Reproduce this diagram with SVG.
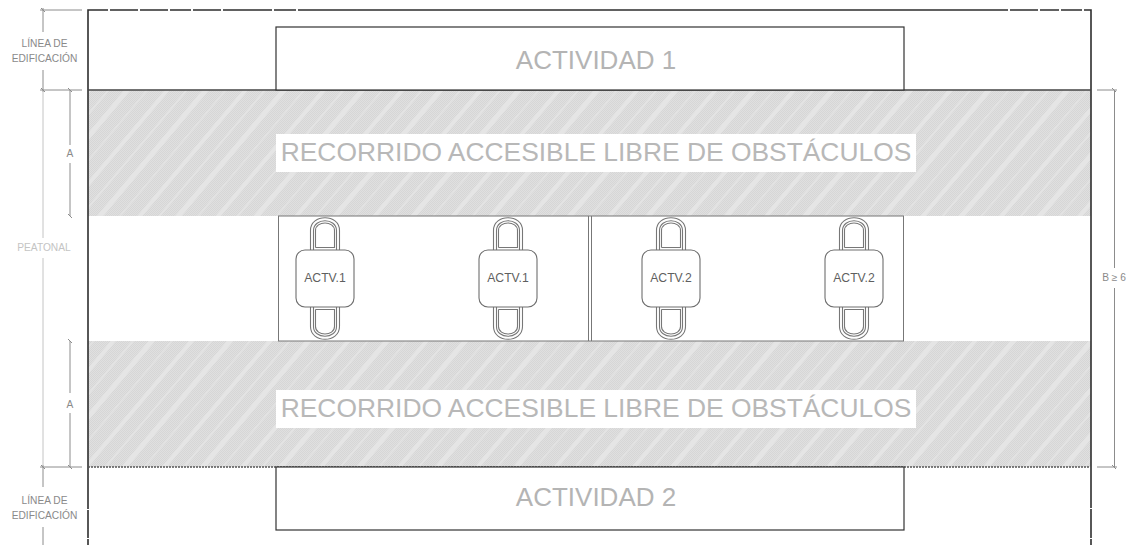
<svg xmlns="http://www.w3.org/2000/svg" width="1132" height="545" viewBox="0 0 1132 545">
<style>
text{font-family:"Liberation Sans",Arial,sans-serif;text-anchor:middle}
.big{font-size:26px;fill:#b4b4b4}
.rec{font-size:26.4px;fill:#b8b8b8}
.lab{font-size:10.2px;fill:#8a8a8a}
.act{font-size:12.2px;fill:#5f5f5f}
.dim{stroke:#8c8c8c;stroke-width:1;fill:none}
.dimL{stroke:#c4c4c4;stroke-width:1;fill:none}
.wall{stroke:#2e2e2e;stroke-width:1.6;fill:none}
.box{stroke:#333;stroke-width:1.2;fill:#fff}
.st{stroke:#6e6e6e;stroke-width:1.1;fill:#fff}
.lp{stroke:#777;stroke-width:1.1;fill:none}
</style>
<defs>
<pattern id="dots" width="2" height="2" patternUnits="userSpaceOnUse"><rect width="2" height="2" fill="#e0e0e0"/><rect width="1" height="1" fill="#d6d6d6"/><rect x="1" y="1" width="1" height="1" fill="#d6d6d6"/></pattern>
<pattern id="stripes" width="60" height="60" patternUnits="userSpaceOnUse" patternTransform="rotate(-50)"><rect x="0" y="4" width="60" height="4" fill="#e5e5e5"/><rect x="0" y="20" width="60" height="2" fill="#e3e3e3"/><rect x="0" y="33" width="60" height="5" fill="#e5e5e5"/><rect x="0" y="50" width="60" height="1.500" fill="#e3e3e3"/></pattern>
<g id="chair">
<path class="lp" d="M-14.500 -28V-48C-14.500 -65 14.500 -65 14.500 -48V-28"/>
<path class="lp" d="M-11.500 -28V-48C-11.500 -61 11.500 -61 11.500 -48V-28"/>
<path class="lp" d="M-9.500 -31V-48C-9.500 -58 9.500 -58 9.500 -48V-31H-9.500"/>
<path class="lp" d="M-14.500 28V48C-14.500 65 14.500 65 14.500 48V28"/>
<path class="lp" d="M-11.500 28V48C-11.500 61 11.500 61 11.500 48V28"/>
<path class="lp" d="M-9.500 31V48C-9.500 58 9.500 58 9.500 48V31H-9.500"/>
<rect class="st" x="-29" y="-28.500" width="58" height="57" rx="9"/>
</g>
</defs>
<rect width="1132" height="545" fill="#fff"/>
<g id="band-top"><rect x="88" y="90" width="1003" height="126" fill="url(#dots)"/><rect x="88" y="90" width="1003" height="126" fill="url(#stripes)"/><rect x="276" y="134" width="640" height="38" fill="#fff"/><text class="rec" x="596" y="161">RECORRIDO ACCESIBLE LIBRE DE OBSTÁCULOS</text></g>
<g id="band-bottom"><rect x="88" y="341" width="1003" height="126" fill="url(#dots)"/><rect x="88" y="341" width="1003" height="126" fill="url(#stripes)"/><rect x="276" y="390" width="640" height="38" fill="#fff"/><text class="rec" x="596" y="417">RECORRIDO ACCESIBLE LIBRE DE OBSTÁCULOS</text></g>
<g id="boundary">
<path class="wall" d="M88 545V10H1091V545"/>
<path d="M88 90H1091" stroke="#444" stroke-width="1.500"/>
<path d="M88 467H1091" stroke="#555" stroke-width="1.500" stroke-dasharray="2 1"/>
<path d="M108 10h2M138 10h2M168 10h2M191 10h2M221 10h2M272 10h2M296 10h2M1008 10h2M1038 10h2M1059 10h2M1082 10h2M88 509v1M88 538v1M1091 508v1M1091 538v1" stroke="#fff" stroke-width="2"/>
</g>
<g id="actividad-1"><rect class="box" x="276" y="27" width="628" height="63"/><text class="big" x="596" y="69">ACTIVIDAD 1</text></g>
<g id="actividad-2"><rect class="box" x="276" y="467" width="628" height="63"/><text class="big" x="596" y="506">ACTIVIDAD 2</text></g>
<g id="kiosk-area"><rect x="278.500" y="216" width="625" height="125" fill="#fff" stroke="#777" stroke-width="1"/><path d="M588.500 216V341M591.500 216V341" stroke="#777"/></g>
<g id="kiosk-1"><use href="#chair" x="325" y="278.500"/><text class="act" x="325" y="282">ACTV.1</text></g>
<g id="kiosk-2"><use href="#chair" x="508" y="278.500"/><text class="act" x="508" y="282">ACTV.1</text></g>
<g id="kiosk-3"><use href="#chair" x="671" y="278.500"/><text class="act" x="671" y="282">ACTV.2</text></g>
<g id="kiosk-4"><use href="#chair" x="854" y="278.500"/><text class="act" x="854" y="282">ACTV.2</text></g>
<g id="connectors">
<path class="dim" d="M40 10H82M43 8V32M43 70V92M40 90H82M40 467H82M43 465V487M43 527V545"/>
<path class="dim" d="M41 8l4 4M41 88l4 4M41 465l4 4M68 88l4 4M68 214l4 4M68 339l4 4M68 465l4 4"/>
<path class="dimL" d="M43 92V238M43 258V465"/>
<path class="dim" d="M70 90V145M70 163V216M70 341V393M70 413V467"/>
<path class="dim" d="M1097 90H1117M1097 467H1117M1114.500 90V268M1114.500 288V467M1112 88l4 4M1112 465l4 4"/>
</g>
<g id="labels">
<text class="lab" x="44.500" y="47">LÍNEA DE</text><text class="lab" x="44.500" y="62">EDIFICACIÓN</text>
<text class="lab" x="44.500" y="504">LÍNEA DE</text><text class="lab" x="44.500" y="519">EDIFICACIÓN</text>
<text class="lab" x="44" y="251" style="fill:#c4c4c4">PEATONAL</text>
<text class="lab" x="70" y="157">A</text><text class="lab" x="70" y="408">A</text>
<text class="lab" x="1114" y="281">B ≥ 6</text>
</g>
</svg>
